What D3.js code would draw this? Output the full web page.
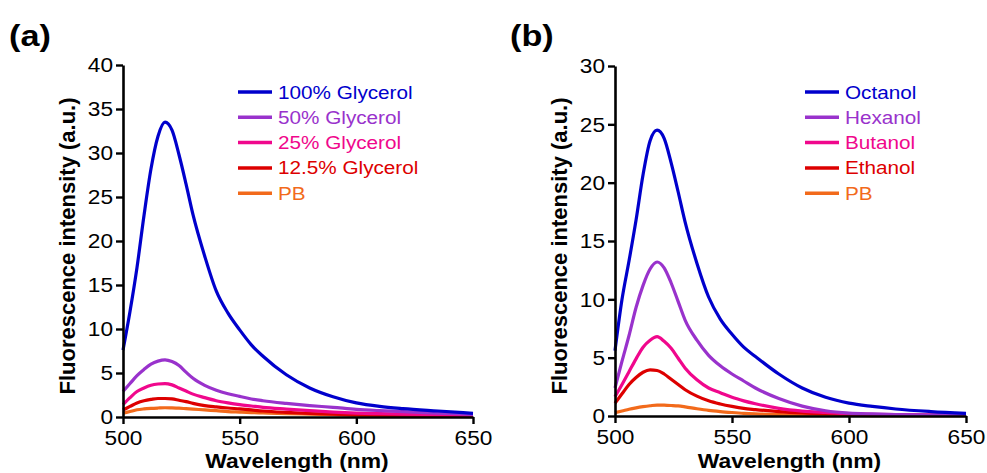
<!DOCTYPE html>
<html>
<head>
<meta charset="utf-8">
<script src="https://cdn.jsdelivr.net/npm/d3@7"></script>
<style>
  body { margin: 0; background: #fff; }
  svg { font-family: "Liberation Sans", Arial, sans-serif; }
</style>
</head>
<body>
<svg id="chart" width="987" height="473"></svg>
<script>
// DATA
const wavelengths = [500, 503, 506, 509, 512, 515, 518, 521, 524, 527, 530, 535, 540, 545, 550, 555, 560, 570, 580, 590, 600, 610, 620, 635, 650];

// panel (a) - glycerol
const glycerol100 = [7.6, 12.0, 17.0, 22.9, 28.2, 31.9, 33.5, 32.6, 29.8, 26.5, 23.0, 18.3, 14.3, 11.8, 9.9, 8.2, 6.9, 4.8, 3.3, 2.3, 1.6, 1.2, 0.95, 0.68, 0.42];
const glycerol50  = [2.9, 3.8, 4.7, 5.4, 6.0, 6.35, 6.5, 6.3, 5.85, 5.1, 4.4, 3.6, 3.05, 2.65, 2.35, 2.05, 1.85, 1.55, 1.3, 1.1, 0.87, 0.72, 0.6, 0.45, 0.3];
const glycerol25  = [1.4, 2.2, 2.9, 3.3, 3.6, 3.75, 3.8, 3.65, 3.3, 2.95, 2.6, 2.2, 1.85, 1.6, 1.4, 1.25, 1.1, 0.9, 0.72, 0.56, 0.45, 0.38, 0.32, 0.26, 0.2];
const glycerol12  = [0.8, 1.2, 1.6, 1.85, 2.0, 2.1, 2.1, 2.05, 1.9, 1.75, 1.55, 1.3, 1.15, 1.02, 0.92, 0.8, 0.68, 0.52, 0.4, 0.32, 0.25, 0.2, 0.16, 0.13, 0.1];
const pbA         = [0.42, 0.62, 0.82, 0.92, 0.98, 1.02, 1.05, 1.03, 1.0, 0.95, 0.9, 0.8, 0.72, 0.62, 0.56, 0.5, 0.46, 0.38, 0.32, 0.26, 0.2, 0.16, 0.12, 0.08, 0.05];

// panel (b) - alcohols
const octanol = [5.6, 10.0, 13.3, 16.8, 20.7, 23.6, 24.5, 23.8, 21.7, 19.2, 16.6, 13.1, 10.2, 8.3, 7.0, 5.9, 5.1, 3.6, 2.4, 1.6, 1.1, 0.82, 0.6, 0.38, 0.22];
const hexanol = [2.4, 4.7, 6.9, 9.3, 11.2, 12.6, 13.2, 12.7, 11.4, 9.8, 8.2, 6.5, 5.2, 4.3, 3.6, 3.0, 2.4, 1.5, 0.85, 0.45, 0.25, 0.18, 0.13, 0.08, 0.05];
const butanol = [1.65, 2.7, 3.8, 4.9, 5.9, 6.5, 6.8, 6.4, 5.8, 4.95, 4.1, 3.1, 2.4, 2.0, 1.6, 1.3, 1.05, 0.65, 0.42, 0.3, 0.2, 0.15, 0.11, 0.07, 0.05];
const ethanol = [1.1, 1.9, 2.7, 3.3, 3.75, 3.95, 3.9, 3.6, 3.15, 2.7, 2.25, 1.7, 1.3, 1.03, 0.82, 0.65, 0.55, 0.38, 0.27, 0.2, 0.15, 0.12, 0.09, 0.07, 0.05];
const pbB     = [0.29, 0.43, 0.58, 0.7, 0.8, 0.88, 0.94, 0.93, 0.9, 0.86, 0.78, 0.62, 0.48, 0.38, 0.3, 0.23, 0.18, 0.12, 0.09, 0.07, 0.05, 0.04, 0.03, 0.03, 0.02];

const namesA = ["100% Glycerol", "50% Glycerol", "25% Glycerol", "12.5% Glycerol", "PB"];
const namesB = ["Octanol", "Hexanol", "Butanol", "Ethanol", "PB"];
const colors = ["#0000cc", "#9932cc", "#f0078c", "#dd0000", "#f26a1b"];

const xTicks = [500, 550, 600, 650];
const yTicksA = [0, 5, 10, 15, 20, 25, 30, 35, 40];
const yTicksB = [0, 5, 10, 15, 20, 25, 30];

const svg = d3.select("#chart");

// stretch text horizontally a bit, the original figure is wider than arial
function stretchText(sel, s) {
    sel.each(function() {
        const t = d3.select(this);
        const x = +t.attr("x") || 0;
        t.attr("x", 0).attr("transform", `translate(${x},0) scale(${s},1)`);
    });
}

function drawPanel(opt) {
    const x = d3.scaleLinear().domain([500, 650]).range([opt.left, opt.right]);
    const y = d3.scaleLinear().domain([0, opt.yMax]).range([opt.bottom, opt.top]);

    // curves, drawn back to front
    const line = d3.line()
        .x((d, i) => x(wavelengths[i]))
        .y(d => y(d))
        .curve(d3.curveMonotoneX);

    for (let i = opt.series.length - 1; i >= 0; i--) {
        svg.append("path")
            .datum(opt.series[i])
            .attr("d", line)
            .attr("fill", "none")
            .attr("stroke", colors[i])
            .attr("stroke-width", 3.2)
            .attr("stroke-linejoin", "round");
    }

    // axes
    const gx = svg.append("g")
        .attr("transform", `translate(0,${opt.bottom})`)
        .call(d3.axisBottom(x).tickValues(xTicks).tickSize(7).tickPadding(6).tickSizeOuter(0));
    const gy = svg.append("g")
        .attr("transform", `translate(${opt.left},0)`)
        .call(d3.axisLeft(y).tickValues(opt.yTicks).tickSize(7).tickPadding(3).tickSizeOuter(0));

    [gx, gy].forEach(g => {
        g.select(".domain").attr("stroke", "#000").attr("stroke-width", 2.6);
        g.selectAll(".tick line").attr("stroke", "#000").attr("stroke-width", 2.4);
        g.selectAll(".tick text")
            .attr("fill", "#000")
            .style("font-size", "21px")
            .style("font-family", "'Liberation Sans', Arial, sans-serif");
    });
    stretchText(gy.selectAll(".tick text"), 1.08);
    gx.selectAll(".tick text").attr("transform", "scale(1.08,1)");

    // axis titles
    svg.append("text")
        .attr("transform", `translate(${(opt.left + opt.right) / 2 - 1},468) scale(1.09,1)`)
        .attr("text-anchor", "middle")
        .style("font-size", "21px")
        .style("font-weight", "bold")
        .text("Wavelength (nm)");

    svg.append("text")
        .attr("transform", `translate(${opt.yLabelX},246) rotate(-90)`)
        .attr("text-anchor", "middle")
        .style("font-size", "22px")
        .style("font-weight", "bold")
        .text("Fluorescence intensity (a.u.)");

    // panel letter
    svg.append("text")
        .attr("transform", `translate(${opt.tagX},46) scale(1.18,1)`)
        .style("font-size", "29px")
        .style("font-weight", "bold")
        .text(opt.tag);

    // legend
    const legend = svg.append("g")
        .attr("transform", `translate(${opt.legendX},92)`);

    opt.names.forEach((name, i) => {
        const row = legend.append("g")
            .attr("transform", `translate(0,${i * 25.3})`);
        row.append("line")
            .attr("x1", 0).attr("x2", 34)
            .attr("y1", 0).attr("y2", 0)
            .attr("stroke", colors[i])
            .attr("stroke-width", 3.5);
        row.append("text")
            .attr("transform", "translate(40,6.5) scale(1.12,1)")
            .attr("fill", colors[i])
            .style("font-size", "18.5px")
            .text(name);
    });
}

drawPanel({
    tag: "(a)", tagX: 9,
    left: 123, right: 473, top: 65, bottom: 417,
    yMax: 40, yTicks: yTicksA, yLabelX: 75,
    series: [glycerol100, glycerol50, glycerol25, glycerol12, pbA],
    names: namesA, legendX: 238
});

drawPanel({
    tag: "(b)", tagX: 510,
    left: 615, right: 966, top: 66, bottom: 416,
    yMax: 30, yTicks: yTicksB, yLabelX: 567,
    series: [octanol, hexanol, butanol, ethanol, pbB],
    names: namesB, legendX: 805
});
</script>
</body>
</html>
